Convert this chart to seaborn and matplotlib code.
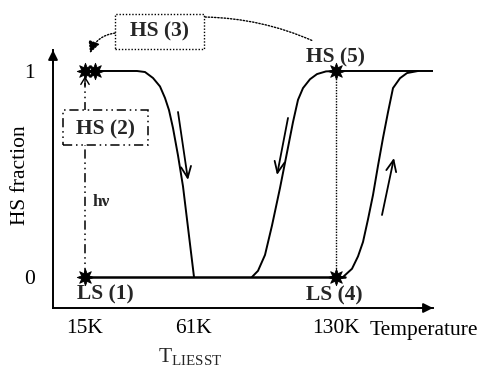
import matplotlib
matplotlib.use("Agg")
import matplotlib.pyplot as plt
import seaborn as sns
from matplotlib.patches import Rectangle

# ---------------- data (schematic units) ----------------
# x: schematic temperature position, y: HS fraction
tick_labels = ["15K", "61K", "130K"]
tick_pos = [85, 194, 336]
y_ticks = [0, 1]

# relaxation of the photo-induced HS state (HS(3) -> LS at T_LIESST)
liesst_x = [85, 137, 145, 153, 160, 165, 169, 173, 178, 183, 188, 194]
liesst_y = [1.0, 1.0, 0.995, 0.966, 0.925, 0.869, 0.81, 0.723, 0.59, 0.44, 0.24, 0.0]

# thermal hysteresis: cooling branch
cool_x = [252, 258, 265, 272, 280, 287, 293, 298, 303, 310, 317, 326, 336, 444]
cool_y = [0.0, 0.03, 0.107, 0.25, 0.432, 0.604, 0.752, 0.86, 0.917, 0.96, 0.985, 0.998, 1.0, 1.0]

# thermal hysteresis: heating branch
heat_x = [336, 343, 352, 358, 363, 368, 373, 378, 383, 388, 393, 400, 407, 418]
heat_y = [0.0, 0.0, 0.04, 0.10, 0.17, 0.28, 0.398, 0.54, 0.675, 0.80, 0.917, 0.965, 0.99, 1.0]

# LS baseline
base_x = [85, 345]
base_y = [0.0, 0.0]

# states (stars)
star_x = [85, 95, 85, 336, 336]
star_y = [1.0, 1.0, 0.0, 0.0, 1.0]

# ---------------- figure ----------------
sns.set_theme(style="white")
plt.rcParams["font.family"] = ["Liberation Serif", "DejaVu Serif"]
plt.rcParams["mathtext.fontset"] = "custom"
plt.rcParams["mathtext.rm"] = "Liberation Serif"

FS = 15.5

fig = plt.figure(figsize=(4.79, 3.70), dpi=100)
ax = fig.add_axes([53 / 479, 62 / 370, 380 / 479, 258 / 370])
ax.set_xlim(53, 433)
ax.set_ylim(-0.1505, 1.1019)

lw = 1.4
kw = dict(color="black", sort=False, estimator=None, ax=ax, legend=False)
sns.lineplot(x=liesst_x, y=liesst_y, linewidth=lw, **kw)
sns.lineplot(x=cool_x, y=cool_y, linewidth=lw, **kw)
sns.lineplot(x=heat_x, y=heat_y, linewidth=lw, **kw)
sns.lineplot(x=base_x, y=base_y, linewidth=1.8, **kw)
# dotted vertical between LS(4) and HS(5)
sns.lineplot(x=[336, 336], y=[0.0, 1.0], linewidth=1.0, linestyle=(0, (1, 1)), **kw)
# dash-dot-dot vertical for the light irradiation (hv)
sns.lineplot(x=[85, 85], y=[0.0, 0.94], linewidth=1.1, linestyle=(0, (6, 2.5, 1, 2.5, 1, 2.5)), **kw)
ax.annotate("", xy=(85, 0.975), xytext=(85, 0.93),
            arrowprops=dict(arrowstyle="->,head_length=0.5,head_width=0.3", color="black", lw=1.0,
                            mutation_scale=10, shrinkA=0, shrinkB=0))

sns.scatterplot(x=star_x, y=star_y, marker=(8, 1, 0), s=140, color="black",
                edgecolor="black", linewidth=0.6, ax=ax, zorder=5, clip_on=False)

# arrows along the curves
arr = dict(arrowstyle="->,head_length=0.45,head_width=0.2", color="black", lw=1.3,
           mutation_scale=18, shrinkA=0, shrinkB=0)
ax.annotate("", xy=(188, 0.471), xytext=(178, 0.801), arrowprops=arr)
ax.annotate("", xy=(277, 0.495), xytext=(288, 0.772), arrowprops=arr)
ax.annotate("", xy=(394, 0.578), xytext=(382, 0.301), arrowprops=arr)

# boxes
ax.add_patch(Rectangle((63, 0.641), 85, 0.170, facecolor="white", edgecolor="black",
                       linewidth=1.1, linestyle=(0, (6, 2.5, 1, 2.5, 1, 2.5)), zorder=3))
ax.add_patch(Rectangle((115, 1.107), 89, 0.170, facecolor="white", edgecolor="black",
                       linewidth=1.0, linestyle=(0, (1, 1.3)), zorder=3, clip_on=False))

bold = dict(fontsize=FS, fontweight="bold", ha="center", va="center", zorder=4)
ax.text(106, 0.718, "HS (2)", **bold)
ax.text(160, 1.19, "HS (3)", clip_on=False, **bold)
ax.text(336, 1.067, "HS (5)", **bold)
ax.text(105, -0.085, "LS (1)", **bold)
ax.text(334, -0.088, "LS (4)", **bold)
ax.text(93, 0.364, "hν", fontsize=12.5, fontweight="bold", ha="left", va="center")

# dotted connectors from HS(3)
ax.annotate("", xy=(90, 1.087), xytext=(115, 1.184),
            arrowprops=dict(arrowstyle="-|>,head_length=0.5,head_width=0.25", color="black", lw=1.0,
                            linestyle=(0, (1, 1.3)),
                            mutation_scale=14, shrinkA=0, shrinkB=0,
                            connectionstyle="arc3,rad=0.3"), annotation_clip=False)
ax.annotate("", xy=(313, 1.146), xytext=(205, 1.262),
            arrowprops=dict(arrowstyle="-", color="black", lw=1.0, linestyle=(0, (1, 1.3)),
                            shrinkA=0, shrinkB=0, connectionstyle="arc3,rad=-0.1"),
            annotation_clip=False)

# axes styling
sns.despine(ax=ax)
for s in ["left", "bottom"]:
    ax.spines[s].set_linewidth(lw)
    ax.spines[s].set_color("black")
ax.set_xticks(tick_pos, tick_labels)
ax.set_yticks(y_ticks, [str(v) for v in y_ticks])
ax.tick_params(axis="x", direction="inout", length=7.5, width=lw, pad=4.5, labelsize=FS, colors="black")
ax.tick_params(axis="y", direction="inout", length=10.5, width=lw, pad=7.5, labelsize=FS, colors="black")
ax.set_xlabel("Temperature", fontsize=FS, color="black", va="center", ha="center")
ax.xaxis.set_label_coords(0.976, -0.089)
ax.set_ylabel("HS fraction", fontsize=FS, color="black", va="center", ha="center")
ax.yaxis.set_label_coords(-0.085, 0.515)

ax.text(190, -0.388, r"T$_{\mathrm{LIESST}}$", fontsize=FS, ha="center", va="center", clip_on=False)

# axis arrowheads
ah = dict(arrowstyle="-|>", color="black", lw=lw, mutation_scale=14, shrinkA=0, shrinkB=0)
ax.annotate("", xy=(1.0, 0.0), xytext=(0.96, 0.0), xycoords="axes fraction", arrowprops=ah)
ax.annotate("", xy=(0.0, 1.0), xytext=(0.0, 0.95), xycoords="axes fraction", arrowprops=ah)

fig.savefig("out.png", dpi=100, facecolor="white")
